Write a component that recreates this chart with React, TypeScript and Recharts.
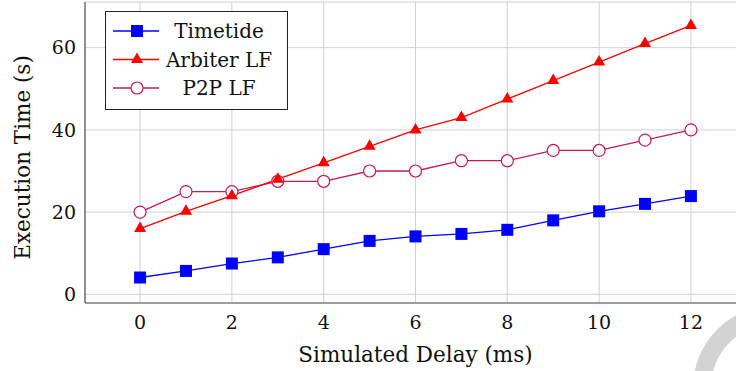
import React from "react";
import { LineChart, Line, XAxis, YAxis, CartesianGrid, Legend } from "recharts";

const delays = [0, 1, 2, 3, 4, 5, 6, 7, 8, 9, 10, 11, 12];
const timetide = [4.1, 5.7, 7.5, 9.0, 11.0, 13.0, 14.1, 14.7, 15.7, 18.0, 20.2, 22.0, 23.9];
const arbiterLF = [16.0, 20.2, 24.0, 28.0, 32.0, 36.0, 40.0, 43.0, 47.5, 52.0, 56.5, 61.0, 65.4];
const p2pLF = [20, 25, 25, 27.5, 27.5, 30, 30, 32.5, 32.5, 35, 35, 37.5, 40];
const xTicks = [0, 2, 4, 6, 8, 10, 12];
const yTicks = [0, 20, 40, 60];

const data = delays.map((d, i) => ({
  delay: d,
  timetide: timetide[i],
  arbiter: arbiterLF[i],
  p2p: p2pLF[i],
}));

const FONT = "'DejaVu Serif', serif";
const AXIS = "#555";
const FS = 19; // tick labels
const LFS = 20; // legend
const TFS = 21.5; // axis titles

const BLUE = "#0000ff";
const RED = "#ff0000";
const CRIMSON = "#c8195a";

function Square({ cx, cy, color }: any) {
  if (cx == null || cy == null) return null;
  return <rect x={cx - 6} y={cy - 6} width={12} height={12} fill={color} />;
}
function Triangle({ cx, cy, color }: any) {
  if (cx == null || cy == null) return null;
  const r = 7;
  const pts = `${cx},${cy - r} ${cx - r * 0.866},${cy + r / 2} ${cx + r * 0.866},${cy + r / 2}`;
  return <polygon points={pts} fill={color} />;
}
function Circle({ cx, cy, color }: any) {
  if (cx == null || cy == null) return null;
  return <circle cx={cx} cy={cy} r={6} fill="#fff" stroke={color} strokeWidth={1.2} />;
}

const series = [
  { key: "timetide", name: "Timetide", color: BLUE, Mark: Square },
  { key: "arbiter", name: "Arbiter LF", color: RED, Mark: Triangle },
  { key: "p2p", name: "P2P LF", color: CRIMSON, Mark: Circle },
];

function BottomTick({ x, y, payload, tickMargin }: any) {
  const ay = y - tickMargin;
  return (
    <g>
      <line x1={x} x2={x} y1={ay} y2={ay - 7} stroke={AXIS} strokeWidth={1} />
      <text x={x} y={y} dy={FS * 0.82} textAnchor="middle" fontFamily={FONT} fontSize={FS} fill="#111">
        {payload.value}
      </text>
    </g>
  );
}
function TopTick({ x, y }: any) {
  return <line x1={x} x2={x} y1={y} y2={y + 7} stroke={AXIS} strokeWidth={1} />;
}
function LeftTick({ x, y, payload, tickMargin }: any) {
  const ax = x + tickMargin;
  return (
    <g>
      <line x1={ax} x2={ax + 7} y1={y} y2={y} stroke={AXIS} strokeWidth={1} />
      <text x={x} y={y} dy={FS * 0.36} textAnchor="end" fontFamily={FONT} fontSize={FS} fill="#111">
        {payload.value}
      </text>
    </g>
  );
}

function LegendBox() {
  return (
    <svg width={183} height={99} style={{ display: "block" }}>
      <rect x={0.5} y={0.5} width={182} height={98} fill="#fff" stroke="#222" strokeWidth={1} />
      {series.map((s, i) => {
        const cy = 20 + i * 28.5;
        const M = s.Mark;
        return (
          <g key={s.key}>
            <line x1={8} x2={54} y1={cy} y2={cy} stroke={s.color} strokeWidth={1.3} />
            <M cx={32} cy={cy} color={s.color} />
            <text x={114} y={cy} dy={LFS * 0.36} textAnchor="middle" fontFamily={FONT} fontSize={LFS} fill="#111">
              {s.name}
            </text>
          </g>
        );
      })}
    </svg>
  );
}

export default function App() {
  return (
    <div style={{ position: "relative", width: 736, height: 371, overflow: "hidden", background: "#fff" }}>
      <style>{`body{margin:0}`}</style>
      <LineChart width={760} height={371} data={data} margin={{ top: 2, right: 14, bottom: 0, left: 0 }}>
        <CartesianGrid stroke="#d0d0d0" strokeWidth={1} />
        <XAxis
          dataKey="delay"
          type="number"
          domain={[-1.2, 13.2]}
          ticks={xTicks}
          interval={0}
          height={68}
          tickSize={0}
          tickMargin={10}
          tick={<BottomTick />}
          axisLine={{ stroke: AXIS, strokeWidth: 1.2 }}
          label={{ value: "Simulated Delay (ms)", position: "center", dy: 17, fontFamily: FONT, fontSize: TFS, fill: "#111" }}
        />
        <XAxis
          xAxisId="top"
          orientation="top"
          dataKey="delay"
          type="number"
          domain={[-1.2, 13.2]}
          ticks={xTicks}
          height={0}
          tickSize={0}
          tickMargin={0}
          tick={<TopTick />}
          axisLine={{ stroke: AXIS, strokeWidth: 1.2 }}
        />
        <YAxis
          type="number"
          domain={[-2.1, 71.1]}
          ticks={yTicks}
          width={85}
          tickSize={0}
          tickMargin={9}
          tick={<LeftTick />}
          axisLine={{ stroke: AXIS, strokeWidth: 1.2 }}
          label={{ value: "Execution Time (s)", angle: -90, position: "center", dx: -20, dy: 5, fontFamily: FONT, fontSize: TFS, fill: "#111" }}
        />
        <Legend
          content={<LegendBox />}
          layout="horizontal"
          align="center"
          verticalAlign="middle"
          wrapperStyle={{ top: 11, left: 105, width: "auto" }}
        />
        <Line
          dataKey="timetide"
          name="Timetide"
          stroke={BLUE}
          strokeWidth={1.3}
          dot={(p: any) => <Square key={p.index} cx={p.cx} cy={p.cy} color={BLUE} />}
          activeDot={false}
          isAnimationActive={false}
        />
        <Line
          dataKey="p2p"
          name="P2P LF"
          stroke={CRIMSON}
          strokeWidth={1.3}
          dot={(p: any) => <Circle key={p.index} cx={p.cx} cy={p.cy} color={CRIMSON} />}
          activeDot={false}
          isAnimationActive={false}
        />
        <Line
          dataKey="arbiter"
          name="Arbiter LF"
          stroke={RED}
          strokeWidth={1.3}
          dot={(p: any) => <Triangle key={p.index} cx={p.cx} cy={p.cy} color={RED} />}
          activeDot={false}
          isAnimationActive={false}
        />
      </LineChart>
      <svg width={736} height={371} style={{ position: "absolute", left: 0, top: 0, pointerEvents: "none" }}>
        <circle cx={776} cy={388} r={74} fill="none" stroke="#d3d3d3" strokeWidth={18} />
      </svg>
    </div>
  );
}
